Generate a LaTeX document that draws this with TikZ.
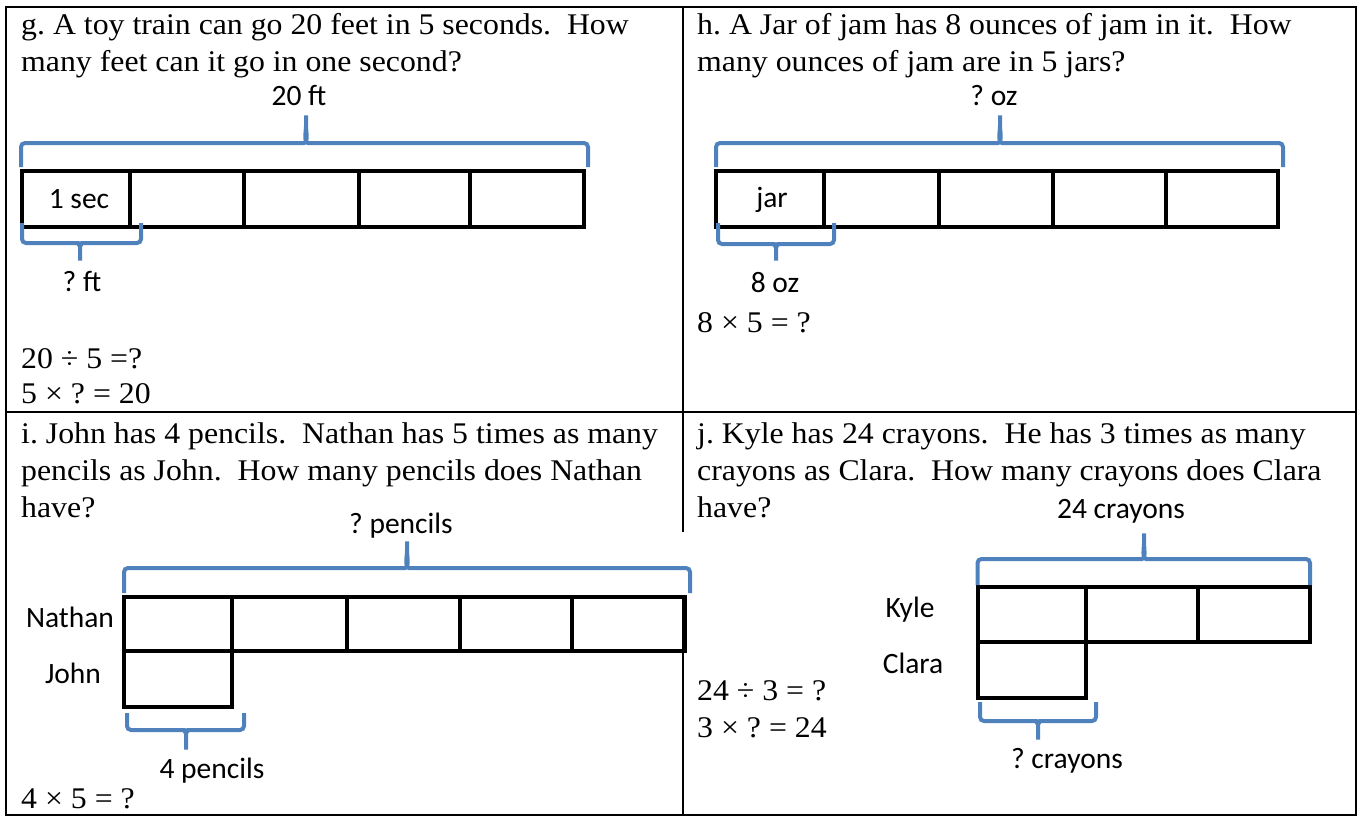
\documentclass[tikz,border=0pt]{standalone}
\usepackage{fontspec}
\setmainfont{Liberation Serif}
\newfontfamily\labelfont{Carlito}
\usetikzlibrary{positioning}
\definecolor{braceblue}{HTML}{4F81BD}
\frenchspacing

\begin{document}
\begin{tikzpicture}[x=1pt, y=-1pt,
  grid/.style={line width=2pt},
  prob/.style={anchor=base west, inner sep=0pt, xscale=1.06,
    font=\fontsize{30}{37}\selectfont},
  lbl/.style={anchor=base, inner sep=0pt,
    font=\labelfont\fontsize{29.5}{34}\selectfont},
  cell/.style={draw, line width=4pt, inner sep=0pt, outer sep=0pt,
    minimum height=56pt},
  brace/.style={draw=braceblue, line width=4pt, rounded corners=4pt}
]
\useasboundingbox (0,0) rectangle (1360,816);

% table
\draw[grid] (6,7) rectangle (1356,815);
\draw[grid] (6,412) -- (1356,412);
\draw[grid] (683,7) -- (683,532);
\draw[grid] (683,595) -- (683,815);

% ---- g ----
\node[prob] (gline1) at (21,35) {g. A toy train can go 20 feet in 5 seconds.~ How};
\node[prob] (gline2) at (21,72) {many feet can it go in one second?};
\node[cell, minimum width=108pt, anchor=north west] (g1) at (22,171) {};
\node[cell, minimum width=114pt, right=0pt of g1] (g2) {};
\node[cell, minimum width=115pt, right=0pt of g2] (g3) {};
\node[cell, minimum width=111pt, right=0pt of g3] (g4) {};
\node[cell, minimum width=114pt, right=0pt of g4] (g5) {};
\node[lbl] (gsec) at (79,208) {1 sec};
\node[lbl] (gtotal) at (299,106) {20 ft};
\node[lbl] (gpart) at (82,291) {? ft};
\draw[brace] (21,167) -- (21,143) -- (300,143) to[out=0,in=-90] (306,122)
  -- (306,113) -- (306,122) to[out=-90,in=180] (312,143) -- (588,143) -- (588,167);
\draw[brace] (22,223) -- (22,243) -- (74,243) to[out=0,in=90] (80,250)
  -- (80,263) -- (80,250) to[out=90,in=180] (86,243) -- (141,243) -- (141,223);
\node[prob] (geq1) at (21,368) {20 ÷ 5 =?};
\node[prob] (geq2) at (21,403) {5 × ? = 20};

% ---- h ----
\node[prob] (hline1) at (697,35) {h. A Jar of jam has 8 ounces of jam in it.~ How};
\node[prob] (hline2) at (697,72) {many ounces of jam are in 5 jars?};
\node[cell, minimum width=108pt, anchor=north west] (h1) at (716,171) {};
\node[cell, minimum width=115pt, right=0pt of h1] (h2) {};
\node[cell, minimum width=114pt, right=0pt of h2] (h3) {};
\node[cell, minimum width=113pt, right=0pt of h3] (h4) {};
\node[cell, minimum width=112pt, right=0pt of h4] (h5) {};
\node[lbl] (hjar) at (772,207) {jar};
\node[lbl] (htotal) at (994,106) {? oz};
\node[lbl] (hpart) at (775,292) {8 oz};
\draw[brace] (716,167) -- (716,143) -- (994,143) to[out=0,in=-90] (1000,122)
  -- (1000,113) -- (1000,122) to[out=-90,in=180] (1006,143) -- (1283,143) -- (1283,167);
\draw[brace] (718,223) -- (718,244) -- (770,244) to[out=0,in=90] (776,251)
  -- (776,263) -- (776,251) to[out=90,in=180] (782,244) -- (834,244) -- (834,223);
\node[prob] (heq) at (697,332) {8 × 5 = ?};

% ---- i ----
\node[prob] (iline1) at (21,443) {i. John has 4 pencils.~ Nathan has 5 times as many};
\node[prob] (iline2) at (21,480) {pencils as John.~ How many pencils does Nathan};
\node[prob] (iline3) at (21,517) {have?};
\node[cell, minimum width=108pt, minimum height=54pt, anchor=north west] (n1) at (124,597) {};
\node[cell, minimum width=115pt, minimum height=54pt, right=0pt of n1] (n2) {};
\node[cell, minimum width=113pt, minimum height=54pt, right=0pt of n2] (n3) {};
\node[cell, minimum width=112pt, minimum height=54pt, right=0pt of n3] (n4) {};
\node[cell, minimum width=113pt, minimum height=54pt, right=0pt of n4] (n5) {};
\node[cell, minimum width=108pt, below=0pt of n1] (john1) {};
\node[lbl] (nathan) at (70,627) {Nathan};
\node[lbl] (john) at (73,683) {John};
\node[lbl] (itotal) at (401,533) {? pencils};
\node[lbl] (ipart) at (212,778) {4 pencils};
\draw[brace] (124,593) -- (124,568) -- (401,568) to[out=0,in=-90] (407,547)
  -- (407,539) -- (407,547) to[out=-90,in=180] (413,568) -- (690,568) -- (690,593);
\draw[brace] (127,713) -- (127,730) -- (180,730) to[out=0,in=90] (186,737)
  -- (186,752) -- (186,737) to[out=90,in=180] (192,730) -- (244,730) -- (244,713);
\node[prob] (ieq) at (21,808) {4 × 5 = ?};

% ---- j ----
\node[prob] (jline1) at (697,443) {j. Kyle has 24 crayons.~ He has 3 times as many};
\node[prob] (jline2) at (697,480) {crayons as Clara.~ How many crayons does Clara};
\node[prob] (jline3) at (697,517) {have?};
\node[cell, minimum width=108pt, minimum height=55pt, anchor=north west] (k1) at (977.5,587) {};
\node[cell, minimum width=112.5pt, minimum height=55pt, right=0pt of k1] (k2) {};
\node[cell, minimum width=112pt, minimum height=55pt, right=0pt of k2] (k3) {};
\node[cell, minimum width=108pt, below=0pt of k1] (clara1) {};
\node[lbl] (kyle) at (910,617) {Kyle};
\node[lbl] (clara) at (913,673) {Clara};
\node[lbl] (jtotal) at (1121,518) {24 crayons};
\node[lbl] (jpart) at (1067,768) {? crayons};
\draw[brace] (977.5,585) -- (977.5,559) -- (1138,559) to[out=0,in=-90] (1144,539)
  -- (1144,531) -- (1144,539) to[out=-90,in=180] (1150,559) -- (1310,559) -- (1310,585);
\draw[brace] (980,702) -- (980,721) -- (1032,721) to[out=0,in=90] (1038,728)
  -- (1038,742) -- (1038,728) to[out=90,in=180] (1044,721) -- (1096,721) -- (1096,702);
\node[prob] (jeq1) at (697,700) {24 ÷ 3 = ?};
\node[prob] (jeq2) at (697,737) {3 × ? = 24};

\end{tikzpicture}
\end{document}
